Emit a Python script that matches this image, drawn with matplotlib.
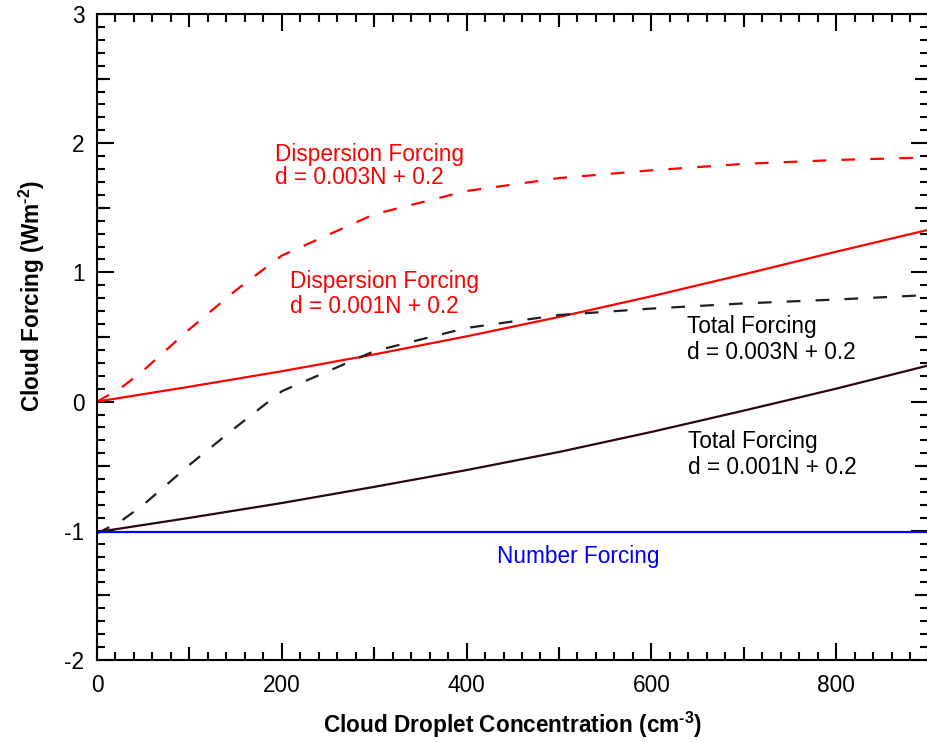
"""Cloud forcing vs. cloud droplet concentration: number, dispersion and total
forcing for two dispersion relations d = aN + 0.2 (IDL-style box axes)."""

import matplotlib

matplotlib.use("Agg")
import matplotlib.pyplot as plt
from matplotlib.ticker import FixedLocator, FuncFormatter, MultipleLocator

RED = "#ff0000"
BLUE = "#0000ff"
DARK = "#2a0612"
DASH_BLACK = "#1e1e1e"
INK = "#000000"

# droplet concentration (cm^-3) sample points
N_STEEP = [0, 25, 50, 100, 150, 200, 300, 400, 500, 600, 700, 800, 900]
N_SMOOTH = [0, 100, 200, 300, 400, 500, 600, 700, 800, 900]
N_FLAT = [0, 900]

# cloud forcing (W m^-2)
DISP_003 = [0.0, 0.10, 0.24, 0.56, 0.86, 1.13, 1.45, 1.63, 1.73, 1.79, 1.84, 1.87, 1.89]
TOTAL_003 = [-1.02, -0.93, -0.80, -0.49, -0.20, 0.08, 0.39, 0.57, 0.67, 0.72, 0.76, 0.79, 0.825]
DISP_001 = [0.0, 0.115, 0.235, 0.365, 0.505, 0.655, 0.815, 0.985, 1.16, 1.33]
TOTAL_001 = [-1.01, -0.90, -0.785, -0.66, -0.53, -0.39, -0.235, -0.07, 0.10, 0.28]
NUMBER = [-1.01, -1.01]

X_LABELS = [0, 200, 400, 600, 800]
X_HALF = [100, 300, 500, 700, 900]
Y_LABELS = [-2, -1, 0, 1, 2, 3]
Y_HALF = [-1.5, -0.5, 0.5, 1.5, 2.5]

plt.rcParams["font.family"] = ["Liberation Sans", "DejaVu Sans"]
plt.rcParams["axes.unicode_minus"] = False
plt.rcParams["mathtext.fontset"] = "custom"
plt.rcParams["mathtext.rm"] = "Liberation Sans:bold"
plt.rcParams["mathtext.bf"] = "Liberation Sans:bold"

FS = 16.3
DASHES = (6.2, 6.8)
AX_RECT = [97 / 928, 82 / 742, 831.5 / 928, 646 / 742]


def main() -> None:
    fig = plt.figure(figsize=(9.28, 7.42), dpi=100)
    ax = fig.add_axes(AX_RECT)

    ax.plot(N_STEEP, DISP_003, color=RED, lw=1.6, dashes=DASHES)
    ax.plot(N_SMOOTH, DISP_001, color=RED, lw=1.6)
    ax.plot(N_STEEP, TOTAL_003, color=DASH_BLACK, lw=1.6, dashes=DASHES)
    ax.plot(N_SMOOTH, TOTAL_001, color=DARK, lw=1.6)
    ax.plot(N_FLAT, NUMBER, color=BLUE, lw=1.6)

    ax.set_xlim(0, 900)
    ax.set_ylim(-2, 3)

    # labelled majors + fine minors on the main axes
    ax.xaxis.set_major_locator(FixedLocator(X_LABELS))
    ax.xaxis.set_minor_locator(MultipleLocator(20))
    ax.yaxis.set_major_locator(FixedLocator(Y_LABELS))
    ax.yaxis.set_minor_locator(MultipleLocator(0.1))
    ax.xaxis.set_major_formatter(FuncFormatter(lambda v, _: f"{v:.0f}"))
    ax.yaxis.set_major_formatter(FuncFormatter(lambda v, _: f"{v:.0f}"))
    ax.tick_params(which="both", direction="in", width=1.5, labelsize=FS,
                   top=True, right=True, bottom=True, left=True)
    ax.tick_params(which="major", length=12)
    ax.tick_params(which="minor", length=5.8)
    ax.tick_params(axis="x", pad=10)
    ax.tick_params(axis="y", pad=9)
    for spine in ax.spines.values():
        spine.set_linewidth(1.5)

    # mid-length ticks at the half steps, on an overlaid frameless axes
    mid = fig.add_axes(AX_RECT, frameon=False)
    mid.set_xlim(ax.get_xlim())
    mid.set_ylim(ax.get_ylim())
    mid.set_xticks(X_HALF)
    mid.set_yticks(Y_HALF)
    mid.tick_params(which="major", direction="in", length=9.2, width=1.5,
                    top=True, bottom=True, left=True, right=True,
                    labeltop=False, labelbottom=False, labelleft=False, labelright=False)

    ax.set_xlabel(r"Cloud Droplet Concentration (cm$^{\text{-3}}$)",
                  fontsize=FS, fontweight="bold", labelpad=9)
    ax.set_ylabel(r"Cloud Forcing (Wm$^{\text{-2}}$)",
                  fontsize=FS, fontweight="bold")
    ax.yaxis.set_label_coords(-50 / 831.5, (660 - 296) / 646)

    notes = [
        (192.6, 1.865, "Dispersion Forcing", RED),
        (192.6, 1.684, "d = 0.003N + 0.2", RED),
        (208.9, 0.877, "Dispersion Forcing", RED),
        (208.9, 0.688, "d = 0.001N + 0.2", RED),
        (638.2, 0.529, "Total Forcing", INK),
        (638.2, 0.327, "d = 0.003N + 0.2", INK),
        (640.0, -0.361, "Total Forcing", INK),
        (640.0, -0.563, "d = 0.001N + 0.2", INK),
        (432.9, -1.252, "Number Forcing", BLUE),
    ]
    for x, y, text, color in notes:
        ax.text(x, y, text, color=color, fontsize=FS, ha="left", va="baseline")

    fig.savefig("out.png", dpi=100)
    plt.close(fig)


if __name__ == "__main__":
    main()
